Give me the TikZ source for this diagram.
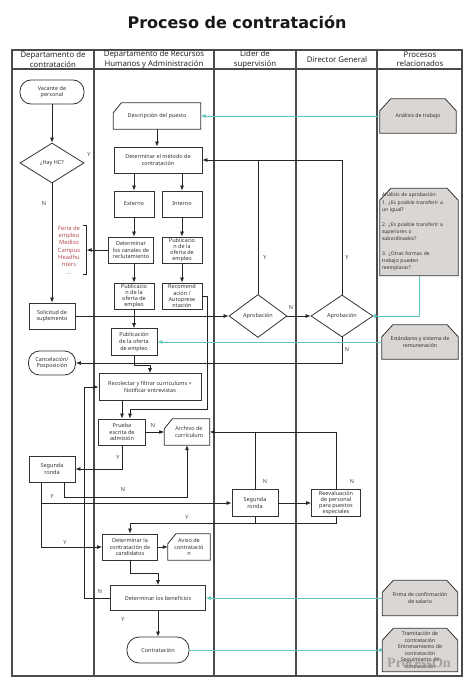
\documentclass[tikz,border=0pt]{standalone}
\usepackage{fontspec}
\setmainfont{Noto Sans}
\newfontfamily\wmfont{Liberation Serif}
\newfontfamily\titlefont{DejaVu Sans}
\usetikzlibrary{arrows.meta,backgrounds,shapes.geometric}
\definecolor{tealc}{RGB}{95,200,190}
\definecolor{boxg}{RGB}{217,214,211}
\definecolor{redt}{RGB}{185,75,85}
\definecolor{lanec}{RGB}{75,75,75}
\tikzset{
  base/.style={font=\fontsize{5.5}{6.6}\selectfont, align=center, inner sep=0.5pt, text=black!80},
  box/.style={base, rectangle, draw=black!80, line width=0.8pt},
  plain/.style={base, rectangle},
  stad/.style={base, rectangle, rounded corners=11pt, draw=black!80, line width=0.8pt},
  dia/.style={base, diamond, draw=black!80, line width=0.8pt, inner sep=0pt},
  gbox/.style={base, rectangle, font=\fontsize{5.2}{6.6}\selectfont},
  hdr/.style={font=\fontsize{7.8}{9.3}\selectfont, align=center, text=black!85},
  lab/.style={font=\fontsize{5.5}{6}\selectfont, text=black!75, inner sep=0pt},
  lane/.style={draw=lanec, line width=1.1pt},
  ln/.style={draw=black!85, line width=0.7pt},
  arr/.style={ln, -{Latex[length=5pt,width=4pt]}},
  tln/.style={draw=tealc, line width=0.8pt},
  tarr/.style={tln, -{Latex[length=5pt,width=4pt]}},
  tdot/.style={tln, -{Circle[length=3.5pt]}},
  outl/.style={draw=black!80, line width=0.8pt},
}
\begin{document}
\begin{tikzpicture}[x=1pt,y=-1pt]
\useasboundingbox (0,0) rectangle (474,688);
% title
\node[font=\titlefont\bfseries\fontsize{16}{19}\selectfont, text=black!90] (title) at (237,22) {Proceso de contratación};
% lanes
\draw[lane] (12,50) rectangle (462,676);
\draw[lane] (12,69) -- (462,69);
\foreach \xx in {94,214,296,377} \draw[lane] (\xx,50) -- (\xx,676);
\node[hdr] (h1) at (53,59.5) {Departamento de\\contratación};
\node[hdr] (h2) at (154,59.5) {Departamento de Recursos\\Humanos y Administración};
\node[hdr] (h3) at (255,59.5) {Líder de\\supervisión};
\node[hdr] (h4) at (337,59.5) {Director General};
\node[hdr] (h5) at (420,59.5) {Procesos\\relacionados};

% column 1
\node[stad, minimum width=64pt, minimum height=24pt] (vac) at (52,92) {Vacante de\\personal};
\node[dia, minimum width=64pt, minimum height=40pt] (hc) at (52,163) {¿Hay HC?};
\node[box, minimum width=46pt, minimum height=26pt] (sol) at (52,316) {Solicitud de\\suplemento};
\node[stad, minimum width=47pt, minimum height=24pt] (canc) at (52,363) {Cancelación/\\Posposición};
\node[box, minimum width=46pt, minimum height=26pt] (seg1) at (52,469) {Segunda\\ronda};
\node[base, text=redt, font=\fontsize{5.8}{7.3}\selectfont] (feria) at (69,250) {Feria de\\empleo\\Medios\\Campus\\Headhu\\nters\\...};
\coordinate (brktop) at (86.7,225);
\coordinate (brkbot) at (86.7,274);

% column 2
\node[plain, minimum width=87pt, minimum height=26pt] (desc) at (157,116) {Descripción del puesto};
\node[box, minimum width=88pt, minimum height=26pt] (met) at (158,160) {Determinar el método de\\contratación};
\node[box, minimum width=40pt, minimum height=26pt] (ext) at (134,204) {Externo};
\node[box, minimum width=40pt, minimum height=26pt] (int) at (182,204) {Interno};
\node[box, minimum width=45pt, minimum height=26pt] (can) at (131,250) {Determinar\\los canales de\\reclutamiento};
\node[box, minimum width=40pt, minimum height=26pt, font=\fontsize{5.5}{6.1}\selectfont] (pubi) at (182,250) {Publicacio\\n de la\\oferta de\\empleo};
\node[box, minimum width=40pt, minimum height=26pt, font=\fontsize{5.5}{6.1}\selectfont] (pube) at (134,296) {Publicacio\\n de la\\oferta de\\empleo};
\node[box, minimum width=40pt, minimum height=26pt, font=\fontsize{5.5}{6.1}\selectfont] (reco) at (182,296) {Recomend\\ación /\\Autoprese\\ntación};
\node[box, minimum width=46pt, minimum height=27pt] (pubb) at (134,342) {Publicación\\de la oferta\\de empleo};
\node[box, minimum width=102pt, minimum height=27pt] (recf) at (150,387) {Recolectar y filtrar currículums +\\Notificar entrevistas};
\node[box, minimum width=47pt, minimum height=26pt] (prueba) at (122,432) {Prueba\\escrita de\\admisión};
\node[plain, minimum width=45pt, minimum height=26pt] (arch) at (187,432) {\hspace{4pt}Archivo de\\\hspace{4pt}currículum};
\node[box, minimum width=55pt, minimum height=26pt] (det) at (130,547) {Determinar la\\contratación de\\candidatos};
\node[plain, minimum width=42pt, minimum height=26pt] (aviso) at (189,547) {Aviso de\\contratació\\n};
\node[box, minimum width=95pt, minimum height=25pt] (ben) at (158,598) {Determinar los beneficios};
\node[stad, minimum width=62pt, minimum height=26pt, rounded corners=12pt] (contr) at (158,650) {Contratación};

% columns 3-4
\node[dia, minimum width=58pt, minimum height=43pt] (ap1) at (258,316) {Aprobación};
\node[dia, minimum width=62pt, minimum height=42pt] (ap2) at (342,316) {Aprobación};
\node[box, minimum width=46pt, minimum height=27pt] (seg2) at (255,503) {Segunda\\ronda};
\node[box, minimum width=49pt, minimum height=27pt, font=\fontsize{5.5}{6.1}\selectfont] (reev) at (336,503) {Reevaluación\\de personal\\para puestos\\especiales};

% right column
\node[gbox, minimum width=76pt, minimum height=34pt] (at) at (418,116) {Análisis de trabajo};
\node[gbox, minimum width=78pt, minimum height=87pt, text width=74pt, align=left, font=\fontsize{5}{7.3}\selectfont] (aap) at (419,232) {Análisis de aprobación:\\1. ¿Es posible transferir a\\un igual?\\[7.3pt]2. ¿Es posible transferir a\\superiores o\\subordinados?\\[7.3pt]3. ¿Otras formas de\\trabajo pueden\\reemplazar?};
\node[gbox, minimum width=76pt, minimum height=34pt] (est) at (420,342) {Estándares y sistema de\\remuneración};
\node[gbox, minimum width=75pt, minimum height=35pt] (firma) at (420,598) {Firma de confirmación\\de salario};
\node[gbox, minimum width=75pt, minimum height=43pt, font=\fontsize{5.2}{6.6}\selectfont] (tram) at (420,650) {Tramitación de\\contratación\\Entrenamiento de\\contratación\\Seguimiento de\\contratación};
\node[font=\wmfont\bfseries\fontsize{14}{14}\selectfont, text=black!45, opacity=0.7] (wm) at (419,663) {ProcessOn};

% background and gray chamfered boxes
\begin{scope}[on background layer]
\fill[white] (0,0) rectangle (474,688);
\foreach \n in {at,aap,est,firma,tram}{
  \filldraw[fill=boxg, outl] (\n.south west) -- ([yshift=-12pt]\n.north west) -- ([xshift=11pt]\n.north west) -- ([xshift=-11pt]\n.north east) -- ([yshift=-12pt]\n.north east) -- (\n.south east) -- cycle;
}
\end{scope}
% manual input outlines
\foreach \n in {desc,arch,aviso}{
  \draw[outl] (\n.south west) -- ([yshift=-10pt]\n.north west) -- ([xshift=8pt]\n.north west) -- (\n.north east) -- (\n.south east) -- cycle;
}
% bracket
\draw[ln] ([xshift=-4pt]brktop) -- (brktop) -- (brkbot) -- ([xshift=-4pt]brkbot);

% connectors
\draw[arr] (vac) -- (hc);
\draw[arr] (hc) -- (sol);
\node[lab] at (44,204) {N};
\node[lab] at (89,155) {Y};
\draw[arr] (desc.south) -- (desc.south |- met.north);
\draw[arr] (ext.north |- met.south) -- (ext.north);
\draw[arr] (int.north |- met.south) -- (int.north);
\draw[arr] (ext.south) -- (ext.south |- can.north);
\draw[arr] (int) -- (pubi);
\draw[arr] (can.west) -- (can.west -| brktop);
\draw[arr] (pube.north |- can.south) -- (pube.north);
\draw[arr] (pubi) -- (reco);
\draw[arr] (pube) -- (pubb);
\draw[arr] (reco.east) -| (207,409) -| ([xshift=8pt]prueba.north);
\draw[arr] (pubb.south) -- ++(0,9) -| (recf.north);
\draw[arr] (sol) -- (ap1);
\draw[arr] (prueba.north |- recf.south) -- (prueba.north);
\draw[arr] (prueba) -- (arch);
\node[lab] at (153,426) {N};
\draw[arr] (prueba.south) |- (seg1.east);
\node[lab] at (118,458) {Y};
\coordinate (s1a) at ([xshift=-11pt]seg1.south);
\coordinate (s1b) at ([xshift=12pt]seg1.south);
\draw[arr] (s1b) -- ++(0,15) -| (arch.south);
\node[lab] at (123,490) {N};
\draw[arr] (s1a) |- (det.west);
\draw[arr] (s1a |- seg2.west) -- (seg2.west);
\node[lab] at (52,497) {Y};
\node[lab] at (65,543) {Y};
\draw[arr] (ap2.north) |- (met.east);
\draw[ln] (ap1.north) -- (ap1.north |- met.east);
\node[lab] at (265,258) {Y};
\node[lab] at (347,258) {Y};
\draw[arr] (ap1) -- (ap2);
\node[lab] at (291,308) {N};
\draw[arr] (ap2.south) |- (canc.east);
\node[lab] at (347,350) {N};
\draw[arr] (seg2.north) |- (arch.east);
\draw[ln] (reev.north) |- (seg2.north |- arch.east);
\node[lab] at (265,482) {N};
\node[lab] at (352,482) {N};
\draw[arr] (seg2) -- (reev);
\draw[ln] (reev.south) -- ++(0,6) -| (seg2.south);
\draw[arr] (seg2.south) -- ++(0,6) -| (det.north);
\node[lab] at (187,518) {Y};
\draw[arr] (det) -- (aviso);
\draw[arr] (det.south) -- ++(0,13) -| (ben.north);
\draw[arr] (ben.west) -- ++(-26,0) |- (recf.west);
\node[lab] at (100,592) {N};
\draw[arr] (ben) -- (contr);
\node[lab] at (123,620) {Y};
% teal
\draw[tarr] (at.west) -- (desc.east);
\draw[tdot] (aap.south) |- (ap2.east);
\draw[tarr] (est.west) -- (pubb.east);
\draw[tarr] (firma.west) -- (ben.east);
\draw[tdot] (contr.east) -- (tram.west);
\end{tikzpicture}
\end{document}
